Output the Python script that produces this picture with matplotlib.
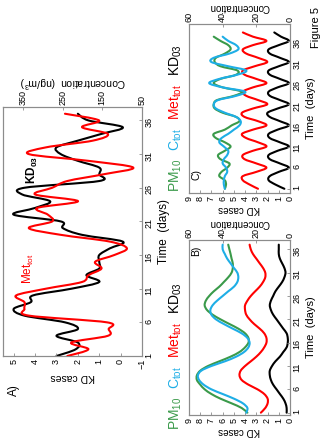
import matplotlib
matplotlib.use('Agg')
import matplotlib.pyplot as plt
from matplotlib.path import Path
from matplotlib.patches import PathPatch

plt.rcParams['font.family'] = ['Liberation Sans', 'DejaVu Sans']
plt.rcParams['mathtext.fontset'] = 'custom'
plt.rcParams['mathtext.rm'] = 'Liberation Sans'
plt.rcParams['mathtext.it'] = 'Liberation Sans:italic'
plt.rcParams['mathtext.bf'] = 'Liberation Sans:bold'

GREEN = '#3a9a4a'
BLUE = '#1eaee6'
RED = '#ff0000'
FRAME = '#8c8c8c'

# panel A: observed series
days_a = list(range(1, 38))
kd_a = [3.0, 2.1, 2.0, 3.0, 2.0, 2.6, 4.5, 5.0, 4.2, 4.1, 2.3, 1.0, 1.6, 1.0, 1.0, 1.0, 0.5,
        -0.1, 1.8, 2.7, 2.8, 5.0, 4.0, 3.3, 4.6, 4.5, 1.0, 1.0, 1.0, 2.0, 2.8, 3.0, 2.0, 0.9,
        -0.1, 1.5, 2.0]
met_a = [238, 185, 228, 136, 134, 138, 335, 346, 346, 367, 292, 201, 185, 152, 168, 120, 88,
         131, 254, 335, 276, 287, 314, 211, 319, 276, 238, 147, 72, 185, 335, 292, 174, 136,
         201, 158, 244]

# panel B: slow waves
days_b = list(range(1, 38))
kd_b = [0.3, 0.3, 0.4, 0.6, 0.9, 1.2, 1.5, 1.7, 1.8, 1.8, 1.6, 1.3, 0.9, 0.6, 0.3, 0.2, 0.2,
        0.3, 0.6, 0.9, 1.2, 1.5, 1.7, 1.8, 1.7, 1.5, 1.3, 1.0, 0.7, 0.5, 0.4, 0.5, 0.7, 0.9,
        1.0, 1.0, 1.0]
met_b = [17.3, 14.7, 13.3, 13.3, 15.3, 19.3, 24.7, 28.7, 30.0, 29.3, 26.7, 23.3, 20.0, 17.3,
         15.3, 14.0, 14.0, 15.3, 18.0, 21.3, 24.0, 26.0, 26.7, 26.7, 25.3, 23.3, 20.7, 18.0,
         16.0, 14.7, 14.7, 16.0, 18.0, 20.0, 22.0, 23.3, 24.0]
pm_b = [25.3, 28.7, 34.7, 41.3, 46.7, 50.7, 53.3, 55.3, 55.3, 53.3, 48.7, 42.0, 35.3, 30.0,
        26.7, 24.7, 24.7, 26.7, 30.7, 36.0, 41.3, 46.0, 49.3, 50.7, 50.0, 48.0, 45.3, 42.0,
        39.3, 36.7, 34.7, 34.0, 34.0, 34.7, 35.3, 36.0, 36.7]
ctot_b = [26.0, 25.3, 28.0, 33.3, 40.0, 46.7, 51.3, 54.0, 54.7, 52.7, 46.7, 38.7, 32.0, 27.3,
          24.7, 24.0, 25.3, 28.7, 34.0, 39.3, 44.0, 46.7, 47.3, 46.0, 43.3, 40.0, 36.7, 33.3,
          31.3, 30.7, 31.3, 33.3, 35.3, 37.3, 38.7, 40.0, 40.0]

# panel C: 5-day cycles
days_c = list(range(1, 39))
kd_c = [0.5, 1.3, 1.9, 1.8, 1.0, 0.1, 0.9, 1.8, 1.9, 1.1, 0.1, 0.9, 1.8, 1.9, 1.1, 0.1, 0.9,
        1.8, 2.0, 1.1, 0.1, 0.9, 1.8, 1.9, 1.1, 0.1, 0.9, 1.8, 1.9, 1.0, 0.1, 0.9, 1.8, 1.9,
        1.0, 0.1, 0.8, 1.4]
met_c = [19, 24, 28, 28, 20, 14, 20, 27, 28, 22, 14, 19, 26, 28.5, 22, 14, 19, 27, 28.5, 22,
         13.5, 19, 26, 28, 22, 14, 20, 27, 28, 21, 13.5, 19, 26, 28, 22, 14, 22, 28]
pm_c = [38.7, 38.0, 38.7, 42.0, 40.7, 37.3, 36.0, 41.3, 42.7, 38.7, 35.3, 38.7, 44.0, 45.3,
        38.7, 34.7, 30.0, 32.0, 40.0, 44.7, 45.3, 43.3, 33.3, 28.7, 40.0, 45.3, 41.3, 32.0,
        31.3, 41.3, 44.7, 44.0, 38.7, 35.3, 36.7, 41.3, 45.3]
ctot_c = [38.7, 39.3, 39.3, 38.7, 37.3, 38.0, 40.0, 39.3, 37.3, 36.7, 39.3, 42.0, 40.7, 36.7,
          33.3, 30.0, 29.3, 32.0, 38.7, 44.0, 45.3, 42.7, 32.0, 26.7, 40.0, 48.0, 42.0, 31.3,
          26.0, 36.7, 46.7, 45.3, 36.0, 30.7, 32.0, 36.7, 40.0]

time_ticks = [1, 6, 11, 16, 21, 26, 31, 36]


def smooth_line(ax, xs, ys, color, lw=1.5):
    # spreadsheet-style smoothed line: bezier segments through every data point
    n = len(xs)
    verts = [(xs[0], ys[0])]
    codes = [Path.MOVETO]
    for i in range(n - 1):
        i0, i2 = max(i - 1, 0), min(i + 2, n - 1)
        c1 = (xs[i] + (xs[i + 1] - xs[i0]) / 6, ys[i] + (ys[i + 1] - ys[i0]) / 6)
        c2 = (xs[i + 1] - (xs[i2] - xs[i]) / 6, ys[i + 1] - (ys[i2] - ys[i]) / 6)
        verts += [c1, c2, (xs[i + 1], ys[i + 1])]
        codes += [Path.CURVE4] * 3
    ax.add_patch(PathPatch(Path(verts, codes), fill=False, edgecolor=color, lw=lw,
                           capstyle='round', joinstyle='round'))


def setup_panel(fig, rect, kd_lim, kd_ticks, conc_lim, conc_ticks, day_lim, conc_label,
                tick_size=6.5, label_size=7.5, conc_pad=3):
    ax = fig.add_axes(rect)
    ax2 = ax.twiny()
    ax.set_xlim(*kd_lim)
    ax.set_xticks(kd_ticks)
    ax2.set_xlim(*conc_lim)
    ax2.set_xticks(conc_ticks)
    ax.set_ylim(*day_lim)
    ax.set_yticks(time_ticks)
    ax.yaxis.tick_right()
    ax.yaxis.set_label_position('right')
    for a in (ax, ax2):
        a.tick_params(direction='in', length=2.5, width=0.6, color=FRAME,
                      labelsize=tick_size, pad=2)
        for sp in a.spines.values():
            sp.set_color(FRAME)
            sp.set_linewidth(0.8)
    ax.tick_params(axis='x', labelrotation=90)
    ax.tick_params(axis='y', labelrotation=90)
    ax2.tick_params(axis='x', labelrotation=90, pad=1.5)
    ax.set_xlabel('KD cases', rotation=180, fontsize=label_size, labelpad=2)
    ax2.set_xlabel(conc_label, rotation=180, fontsize=label_size, labelpad=conc_pad)
    ax.set_ylabel('Time  (days)', rotation=90, fontsize=label_size + 1, labelpad=3)
    return ax, ax2


def rot_legend(fig, x, y0, items, size, gap):
    fig.canvas.draw()
    renderer = fig.canvas.get_renderer()
    y = y0
    for s, c in items:
        t = fig.text(x, y, s, color=c, rotation=90, ha='center', va='bottom', fontsize=size)
        bb = t.get_window_extent(renderer)
        y += bb.height / fig.bbox.height + gap


def main():
    fig = plt.figure(figsize=(3.23, 4.40), dpi=100)
    W, H = 323.0, 440.0

    # panel A
    ax, ax2 = setup_panel(fig, [3 / W, 1 - 356 / H, 139 / W, 249 / H], (5.5, -1),
                          [-1, 0, 1, 2, 3, 4, 5], (400, 50), [50, 150, 250, 350], (1, 38),
                          'Concentration  (ng/m$^3$)')
    smooth_line(ax, kd_a, days_a, 'black')
    smooth_line(ax2, met_a, days_a, RED)
    ax.text(4.1, 28.6, r'KD$_\mathbf{03}$', rotation=90, ha='center', va='center',
            fontsize=8.5, fontweight='bold')
    ax.text(4.3, 14, r'Met$_\mathrm{tot}$', rotation=90, ha='center', va='center',
            fontsize=8.5, color=RED)
    fig.text(14 / W, 1 - 390 / H, 'A)', rotation=90, ha='center', va='center', fontsize=8.5)

    # panel C (top right)
    cx, cx2 = setup_panel(fig, [189 / W, 1 - 193 / H, 101 / W, 169 / H], (9, 0), list(range(10)),
                          (60, 0), [0, 20, 40, 60], (0, 40), 'Concentration',
                          label_size=7, conc_pad=1)
    smooth_line(cx, kd_c, days_c, 'black')
    smooth_line(cx2, met_c, days_c, RED)
    smooth_line(cx2, pm_c, days_c[:len(pm_c)], GREEN)
    smooth_line(cx2, ctot_c, days_c[:len(ctot_c)], BLUE)
    cx.text(0.07, 0.11, 'C)', transform=cx.transAxes, rotation=90, ha='center', va='center',
            fontsize=7.5)

    # panel B (bottom right)
    bx, bx2 = setup_panel(fig, [189 / W, 1 - 415 / H, 101 / W, 175 / H], (9, 0), list(range(10)),
                          (60, 0), [0, 20, 40, 60], (0.5, 38), 'Concentration',
                          label_size=7, conc_pad=1)
    smooth_line(bx, kd_b, days_b, 'black')
    smooth_line(bx2, met_b, days_b, RED)
    smooth_line(bx2, pm_b, days_b, GREEN)
    smooth_line(bx2, ctot_b, days_b, BLUE)
    bx.text(0.07, 0.94, 'B)', transform=bx.transAxes, rotation=90, ha='center', va='center',
            fontsize=7.5)

    items = [('PM$_\\mathrm{10}$', GREEN), ('C$_\\mathrm{tot}$', BLUE),
             ('Met$_\\mathrm{tot}$', RED), ('KD$_\\mathrm{03}$', 'black')]
    rot_legend(fig, 176 / W, 1 - 192 / H, items, 10, 8 / H)
    rot_legend(fig, 176 / W, 1 - 430 / H, items, 10, 8 / H)

    fig.text(316 / W, 1 - 28 / H, 'Figure 5', rotation=90, ha='center', va='center', fontsize=8)

    fig.savefig('out.png', dpi=100)


if __name__ == '__main__':
    main()
